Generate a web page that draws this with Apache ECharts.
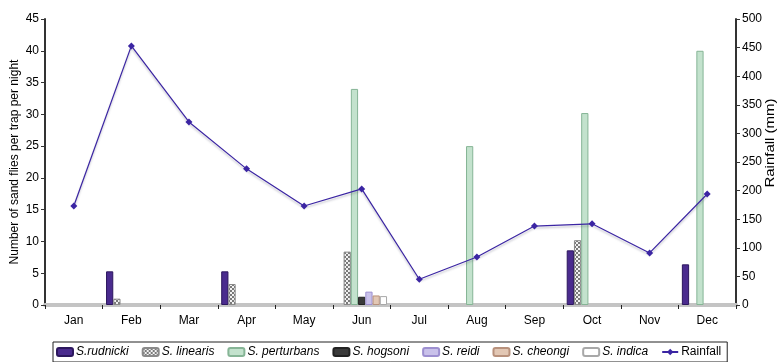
<!DOCTYPE html>
<html>
<head>
<meta charset="utf-8">
<script src="https://cdn.jsdelivr.net/npm/echarts@6/dist/echarts.min.js"></script>
<style>
  html, body { margin: 0; padding: 0; background: #fff; }
  #chart { width: 781px; height: 362px; }
</style>
</head>
<body>
<div id="chart"></div>
<script>
// Monthly sand fly catches per species, with monthly rainfall
const months = ['Jan', 'Feb', 'Mar', 'Apr', 'May', 'Jun', 'Jul', 'Aug', 'Sep', 'Oct', 'Nov', 'Dec'];

const rudnicki   = [0, 5.3, 0, 5.3, 0, 0,    0, 0,  0, 8.6,  0, 6.4];
const linearis   = [0, 1.0, 0, 3.3, 0, 8.4,  0, 0,  0, 10.2, 0, 0];
const perturbans = [0, 0,   0, 0,   0, 34.0, 0, 25, 0, 30.2, 0, 40];
const hogsoni    = [0, 0,   0, 0,   0, 1.3,  0, 0,  0, 0,    0, 0];
const reidi      = [0, 0,   0, 0,   0, 2.1,  0, 0,  0, 0,    0, 0];
const cheongi    = [0, 0,   0, 0,   0, 1.5,  0, 0,  0, 0,    0, 0];
const indica     = [0, 0,   0, 0,   0, 1.4,  0, 0,  0, 0,    0, 0];

const rainfall = [173, 453, 320, 238, 173, 203, 45, 84, 138, 142, 91, 194];

const leftTicks = { min: 0, max: 45, interval: 5 };
const rightTicks = { min: 0, max: 500, interval: 50 };

// checkered fill used for S. linearis
function checkerPattern() {
  const c = document.createElement('canvas');
  c.width = 4; c.height = 4;
  const g = c.getContext('2d');
  g.fillStyle = '#f2f2f2';
  g.fillRect(0, 0, 4, 4);
  g.fillStyle = '#7a7a7a';
  g.fillRect(0, 0, 2, 2);
  g.fillRect(2, 2, 2, 2);
  return c;
}

const FONT = 'Liberation Sans, Arial, sans-serif';

// months with no catch get no bar at all (no outline along the axis)
function barSeries(name, data, fill, border) {
  return {
    name: name,
    type: 'bar',
    data: data.map(v => (v === 0 ? '-' : v)),
    barGap: '0%',
    barCategoryGap: '12%',
    itemStyle: { color: fill, borderColor: border, borderWidth: 1 },
    emphasis: { disabled: true }
  };
}

const chart = echarts.init(document.getElementById('chart'), null, { renderer: 'canvas' });

const italic = { fontStyle: 'italic' };

chart.setOption({
  animation: false,
  textStyle: { fontFamily: FONT },
  grid: { left: 45, right: 45, top: 19, bottom: 57, containLabel: false, outerBoundsMode: 'none' },
  legend: {
    left: 53,
    bottom: 0,
    itemWidth: 16,
    itemHeight: 8,
    itemGap: 13,
    padding: [4, 6, 4, 3],
    borderColor: '#222',
    borderWidth: 1,
    textStyle: { fontFamily: FONT, fontSize: 12, color: '#000', padding: [0, 0, 0, -2] },
    data: [
      { name: 'S.rudnicki', textStyle: italic },
      { name: 'S. linearis', textStyle: italic },
      { name: 'S. perturbans', textStyle: italic },
      { name: 'S. hogsoni', textStyle: italic },
      { name: 'S. reidi', textStyle: italic },
      { name: 'S. cheongi', textStyle: italic },
      { name: 'S. indica', textStyle: italic },
      { name: 'Rainfall' }
    ]
  },
  xAxis: {
    type: 'category',
    data: months,
    boundaryGap: true,
    axisLine: { lineStyle: { color: '#c4c4c4', width: 4 } },
    axisTick: { show: true, length: 4, lineStyle: { color: '#222', width: 1 } },
    axisLabel: { color: '#000', fontSize: 12, margin: 10, fontFamily: FONT },
    splitLine: { show: false }
  },
  yAxis: [
    {
      type: 'value',
      min: leftTicks.min, max: leftTicks.max, interval: leftTicks.interval,
      name: 'Number of sand flies per trap per night',
      nameLocation: 'middle',
      nameGap: 24,
      nameMoveOverlap: false,
      nameTextStyle: { color: '#000', fontSize: 12, fontFamily: FONT },
      axisLine: { show: true, lineStyle: { color: '#333', width: 2 } },
      axisTick: { show: true, length: 4, lineStyle: { color: '#333' } },
      axisLabel: { color: '#000', fontSize: 12, margin: 6, fontFamily: FONT },
      splitLine: { show: false }
    },
    {
      type: 'value',
      position: 'right',
      min: rightTicks.min, max: rightTicks.max, interval: rightTicks.interval,
      axisLine: { show: true, lineStyle: { color: '#333', width: 2 } },
      axisTick: { show: true, length: 4, lineStyle: { color: '#333' } },
      axisLabel: { color: '#000', fontSize: 12, margin: 6, fontFamily: FONT },
      splitLine: { show: false }
    }
  ],
  graphic: [
    {
      type: 'text',
      x: 771, y: 143,
      rotation: Math.PI / 2,
      scaleX: 1.25,
      style: {
        text: 'Rainfall (mm)',
        font: '12px ' + FONT,
        fill: '#000',
        align: 'center',
        verticalAlign: 'middle'
      }
    }
  ],
  series: [
    barSeries('S.rudnicki', rudnicki, '#4a2b8e', '#2c175e'),
    barSeries('S. linearis', linearis, { image: checkerPattern(), repeat: 'repeat' }, '#8a8a8a'),
    barSeries('S. perturbans', perturbans, '#c3e2cd', '#86b596'),
    barSeries('S. hogsoni', hogsoni, '#3a3a3a', '#222'),
    barSeries('S. reidi', reidi, '#c9c1ea', '#9d8fd0'),
    barSeries('S. cheongi', cheongi, '#e2c7b4', '#b8917c'),
    barSeries('S. indica', indica, '#ffffff', '#a8a8a8'),
    {
      name: 'Rainfall',
      type: 'line',
      yAxisIndex: 1,
      data: rainfall,
      z: 5,
      symbol: 'diamond',
      symbolSize: 7,
      itemStyle: { color: '#3b25a3' },
      lineStyle: {
        color: '#3b25a3',
        width: 1.2,
        shadowColor: 'rgba(60,60,90,0.3)',
        shadowOffsetY: 2,
        shadowBlur: 2
      },
      emphasis: { disabled: true }
    }
  ]
});
</script>
</body>
</html>
